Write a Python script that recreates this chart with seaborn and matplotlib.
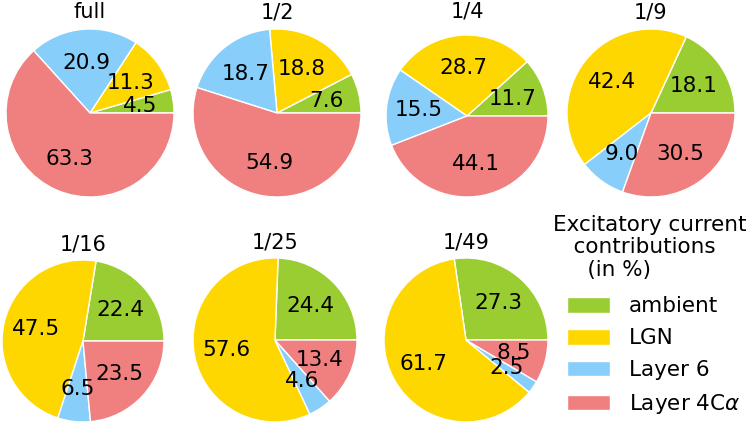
import matplotlib
matplotlib.use("Agg")
import matplotlib.pyplot as plt
import seaborn as sns

# excitatory current contributions (in %) per condition
conditions = ["full", "1/2", "1/4", "1/9", "1/16", "1/25", "1/49"]
sources = ["ambient", "LGN", "Layer 6", r"Layer 4C$\alpha$"]
ambient = [4.5, 7.6, 11.7, 18.1, 22.4, 24.4, 27.3]
lgn = [11.3, 18.8, 28.7, 42.4, 47.5, 57.6, 61.7]
layer6 = [20.9, 18.7, 15.5, 9.0, 6.5, 4.6, 2.5]
layer4ca = [63.3, 54.9, 44.1, 30.5, 23.5, 13.4, 8.5]

sns.set_style("white")
plt.rcParams["text.color"] = "black"
colors = sns.color_palette(["yellowgreen", "gold", "lightskyblue", "lightcoral"])

fig = plt.figure(figsize=(7.5, 4.25), dpi=100)
W, H = 750, 425
# pie centre / radius / title baseline in pixels
centers = [(90, 113), (277, 113), (467, 116), (651, 113),
           (83, 341), (275, 340), (466, 340)]
radii = [84, 84, 81, 84, 81, 82, 82]
title_y = [18, 19, 18, 19, 250, 249, 249]

wedges = None
for i, cond in enumerate(conditions):
    cx, cy = centers[i]
    r = radii[i]
    ax = fig.add_axes([(cx - r) / W, 1 - (cy + r) / H, 2 * r / W, 2 * r / H])
    vals = [ambient[i], lgn[i], layer6[i], layer4ca[i]]
    wedges, _, autotexts = ax.pie(vals, colors=colors, startangle=0,
                                  autopct="%.1f", pctdistance=0.6,
                                  textprops={"fontsize": 15.5, "color": "black"})
    ax.set_xlim(-1, 1)
    ax.set_ylim(-1, 1)
    ax.set_aspect("equal")
    ax.set_title(cond, fontsize=15, pad=(cy - r - title_y[i]) * 0.72, color="black")

fig.text(553 / W, 1 - 215 / H, "Excitatory current\n   contributions\n     (in %)",
         fontsize=15.5, ha="left", va="top", multialignment="left", linespacing=1.15)
fig.legend(wedges, sources, loc="upper left", bbox_to_anchor=(548 / W, 1 - 277 / H),
           frameon=False, fontsize=15.5, handlelength=2.0, handleheight=0.75,
           labelspacing=0.55, handletextpad=0.85)

fig.savefig("out.png", dpi=100)
